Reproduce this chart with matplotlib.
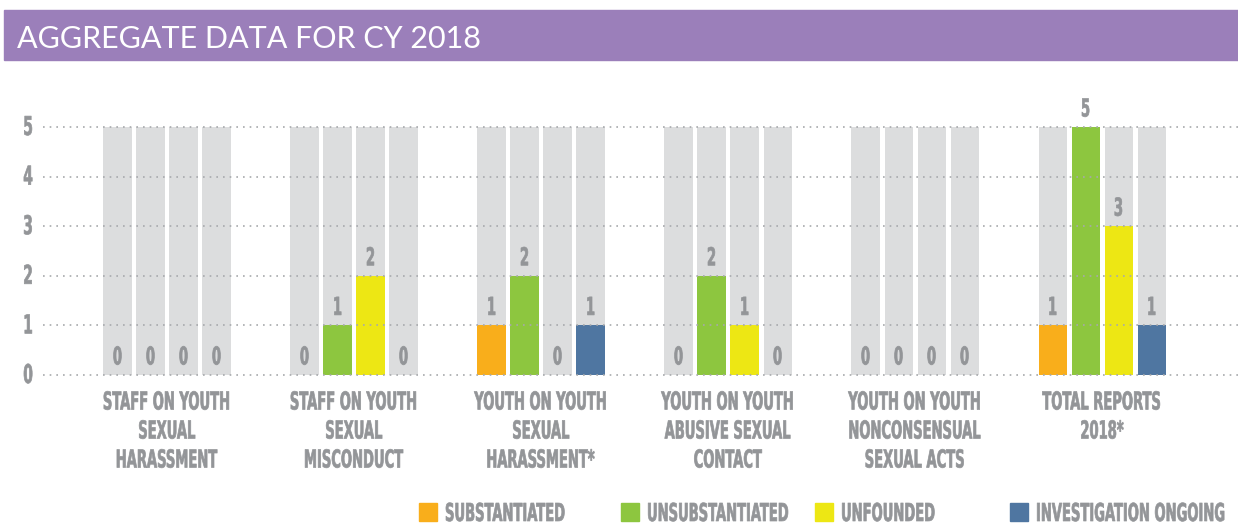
import os
import matplotlib.pyplot as plt
from matplotlib import font_manager
from matplotlib.patches import Rectangle
from matplotlib.patheffects import AbstractPathEffect
from matplotlib.transforms import Affine2D
import numpy as np

# Data
categories = [
    "STAFF ON YOUTH\nSEXUAL\nHARASSMENT",
    "STAFF ON YOUTH\nSEXUAL\nMISCONDUCT",
    "YOUTH ON YOUTH\nSEXUAL\nHARASSMENT*",
    "YOUTH ON YOUTH\nABUSIVE SEXUAL\nCONTACT",
    "YOUTH ON YOUTH\nNONCONSENSUAL\nSEXUAL ACTS",
    "TOTAL REPORTS\n2018*",
]
series_names = ["SUBSTANTIATED", "UNSUBSTANTIATED", "UNFOUNDED", "INVESTIGATION ONGOING"]
substantiated = [0, 0, 1, 0, 0, 1]
unsubstantiated = [0, 1, 2, 2, 0, 5]
unfounded = [0, 2, 0, 1, 0, 3]
ongoing = [0, 0, 1, 0, 0, 1]
y_max = 5

colors = ["#F9AE1B", "#8DC63F", "#EDE714", "#4F76A1"]
grey_bg = "#DCDDDE"
text_grey = "#939598"
purple = "#9B7FBA"


class TallText(AbstractPathEffect):
    """Stretch glyphs upward from the baseline and thicken them a little
    (poor man's condensed display face)."""

    def __init__(self, sy, stroke=0.5):
        super().__init__()
        self.sy = sy
        self.stroke = stroke

    def draw_path(self, renderer, gc, tpath, affine, rgbFace=None):
        gc0 = renderer.new_gc()
        gc0.copy_properties(gc)
        gc0.set_linewidth(self.stroke)
        gc0.set_foreground(rgbFace)
        renderer.draw_path(gc0, tpath, Affine2D().scale(1, self.sy) + affine, rgbFace)
        gc0.restore()


def find_condensed_font():
    wanted = ["notosans-extracondensedbold", "notosans-condensedbold",
              "liberationsansnarrow-bold", "dejavusanscondensed-bold",
              "robotocondensed-bold"]
    files = {os.path.basename(f.fname).lower().rsplit(".", 1)[0]: f.fname
             for f in font_manager.fontManager.ttflist}
    for w in wanted:
        if w in files:
            return font_manager.FontProperties(fname=files[w])
    return font_manager.FontProperties(family="DejaVu Sans", weight="bold")


cond_font = find_condensed_font()

fig = plt.figure(figsize=(12.38, 5.23), dpi=100)
W, H = 1238, 523
renderer = fig.canvas.get_renderer()

# size the condensed text so "STAFF ON YOUTH" is ~127px wide, caps ~18px tall
probe = fig.text(0, 0, "STAFF ON YOUTH", fontproperties=cond_font, fontsize=20)
fs = 20 * 127 / probe.get_window_extent(renderer).width
probe.remove()
sy = 18 / (0.729 * fs * 100 / 72)
tall = [TallText(sy)]

# header band
fig.patches.append(Rectangle((4 / W, 1 - 60 / H), 1 - 4 / W, 50 / H,
                             transform=fig.transFigure, color=purple, zorder=0))
fig.text(17 / W, 1 - 48 / H, "AGGREGATE DATA FOR CY 2018", color="white",
         fontsize=22, family="Lato", va="baseline", ha="left")

# axes: y=0 at px 375, y=5 at px 127
ax = fig.add_axes([43 / W, 1 - 375 / H, (1238 - 43) / W, (375 - 127) / H])
ax.set_ylim(0, y_max)
px = (375 - 127) / y_max  # pixels per unit
x = np.arange(len(categories))
ax.set_xlim(-0.663, 5.727)

offsets = np.array([-1.5, -0.5, 0.5, 1.5]) * 0.1765
width = 0.15
all_series = [substantiated, unsubstantiated, unfounded, ongoing]
for k, vals in enumerate(all_series):
    xs = x + offsets[k]
    ax.bar(xs, [y_max] * len(xs), width=width, color=grey_bg, zorder=1)
    ax.bar(xs, vals, width=width, color=colors[k], zorder=2)
    for xi, v in zip(xs, vals):
        ax.text(xi, v + 10.5 / px, str(v), ha="center", va="baseline", color=text_grey,
                fontproperties=cond_font, fontsize=fs, path_effects=tall, zorder=4)

# dotted gridlines on top of bars
for yv in range(0, y_max + 1):
    ax.axhline(yv, color="#A7A9AC", lw=1.2, ls=(0, (1, 3)), zorder=3, clip_on=False)

for s in ax.spines.values():
    s.set_visible(False)
ax.set_xticks([])
ax.set_yticks([])
for yv in range(0, y_max + 1):
    ax.text(-0.743, yv - 8 / px, str(yv), ha="center", va="baseline", color=text_grey,
            fontproperties=cond_font, fontsize=fs * 1.05, path_effects=tall)

# category labels, one text per line at fixed baselines
for xi, cat in zip(x, categories):
    for j, line in enumerate(cat.split("\n")):
        base_px = 409.5 + 29 * j
        ax.text(xi, -(base_px - 375) / px, line, ha="center", va="baseline",
                color=text_grey, fontproperties=cond_font, fontsize=fs,
                path_effects=tall, clip_on=False)

# legend
legend_x = [445, 647, 841, 1036]
for lx, c, name in zip(legend_x, colors, series_names):
    fig.patches.append(Rectangle(((lx - 26) / W, 1 - 521 / H), 18 / W, 18 / H,
                                 transform=fig.transFigure, color=c))
    fig.text(lx / W, 1 - 521 / H, name, ha="left", va="baseline", color=text_grey,
             fontproperties=cond_font, fontsize=fs, path_effects=tall)

fig.savefig("out.png", dpi=100)
